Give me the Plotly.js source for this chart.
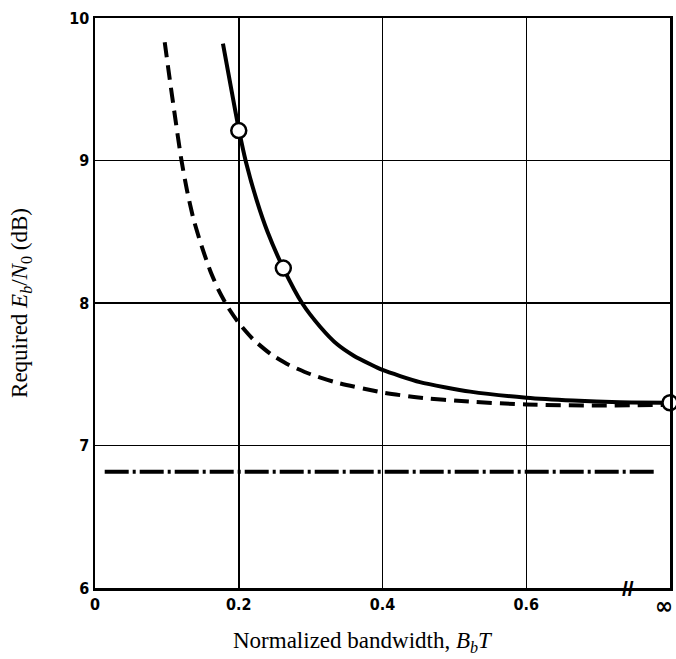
<!DOCTYPE html>
<html>
<head>
<meta charset="utf-8">
<script src="https://cdn.plot.ly/plotly-3.0.1.min.js"></script>
<style>html,body{margin:0;padding:0;background:#fff;}</style>
</head>
<body>
<div id="chart" style="width:676px;height:659px;"></div>
<script>
// Solid curve (with markers)
var solidX = [0.178, 0.19, 0.20, 0.21, 0.225, 0.24, 0.262, 0.288, 0.3135, 0.337, 0.36, 0.383, 0.40, 0.452, 0.522, 0.60, 0.665, 0.73, 0.80];
var solidY = [9.82, 9.49, 9.22, 8.99, 8.72, 8.50, 8.245, 8.00, 7.832, 7.71, 7.63, 7.57, 7.53, 7.445, 7.378, 7.335, 7.315, 7.303, 7.30];
// Open circle markers on the solid curve
var markerX = [0.200, 0.262, 0.800];
var markerY = [9.21, 8.245, 7.30];
// Dashed curve
var dashX = [0.097, 0.104, 0.111, 0.120, 0.128, 0.137, 0.147, 0.16, 0.172, 0.185, 0.20, 0.22, 0.245, 0.27, 0.30, 0.337, 0.40, 0.45, 0.52, 0.60, 0.70, 0.79];
var dashY = [9.83, 9.57, 9.32, 9.01, 8.79, 8.59, 8.42, 8.23, 8.09, 7.97, 7.86, 7.745, 7.64, 7.565, 7.50, 7.44, 7.372, 7.337, 7.308, 7.288, 7.28, 7.285];
// Dash-dot horizontal line
var dotDashX = [0.0135, 0.781];
var dotDashY = [6.815, 6.815];
// Tick labels
var xTickVals = [0, 0.2, 0.4, 0.6];
var xTickText = ['0', '0.2', '0.4', '0.6'];
var infinityLabel = '\u221E';
var yTickVals = [6, 7, 8, 9, 10];
var yTickText = ['6', '7', '8', '9', '10'];
var xTitle = 'Normalized bandwidth, <i>B<sub>b</sub>T</i>';
var yTitle = 'Required <i>E<sub>b</sub></i>/<i>N</i><sub>0</sub> (dB)';

var tickFont = {family: '"DejaVu Sans Condensed", "Liberation Sans Narrow", "Liberation Sans", sans-serif', size: 16, color: '#000', weight: 'bold'};
var titleFont = {family: '"Liberation Serif", "DejaVu Serif", serif', size: 23, color: '#000'};

var traces = [
  {x: dotDashX, y: dotDashY, mode: 'lines', line: {color: '#000', width: 4, dash: '24px,4px,3px,4px'}, hoverinfo: 'skip'},
  {x: dashX, y: dashY, mode: 'lines', line: {color: '#000', width: 4, dash: '15px,8px', shape: 'spline', smoothing: 0.6}, hoverinfo: 'skip'},
  {x: solidX, y: solidY, mode: 'lines', line: {color: '#000', width: 4, shape: 'spline', smoothing: 0.6}, hoverinfo: 'skip'},
  {x: markerX, y: markerY, mode: 'markers', cliponaxis: false,
   marker: {symbol: 'circle', size: 15, color: '#fff', line: {color: '#000', width: 2.5}}, hoverinfo: 'skip'}
];

var layout = {
  width: 676, height: 659,
  margin: {l: 95, r: 6, t: 18, b: 71},
  paper_bgcolor: '#fff', plot_bgcolor: '#fff',
  showlegend: false,
  xaxis: {
    range: [0, 0.8], tickvals: xTickVals, ticktext: xTickText,
    showgrid: true, gridcolor: '#000', gridwidth: 1.5,
    showline: true, mirror: true, linecolor: '#000', linewidth: 2.5,
    zeroline: false, ticks: '', tickfont: tickFont,
    automargin: false
  },
  yaxis: {
    range: [6, 10], tickvals: yTickVals, ticktext: yTickText,
    showgrid: true, gridcolor: '#000', gridwidth: 1.5,
    showline: true, mirror: true, linecolor: '#000', linewidth: 2.5,
    zeroline: false, ticks: '', tickfont: tickFont,
    title: {text: yTitle, font: titleFont, standoff: 35},
    automargin: false
  },
  annotations: [
    {x: 0.742, y: 6, xref: 'x', yref: 'y', text: '<b>//</b>', showarrow: false,
     font: {family: '"Liberation Sans", sans-serif', size: 21, color: '#000'}, xanchor: 'center', yanchor: 'middle'},
    {x: 0.8, y: 6, xref: 'x', yref: 'y', text: infinityLabel, showarrow: false,
     font: {family: '"DejaVu Sans Condensed", sans-serif', size: 24, color: '#000', weight: 'bold'},
     xanchor: 'right', yanchor: 'middle', xshift: 5, yshift: -18},
    {x: 0.466, y: -0.095, xref: 'paper', yref: 'paper', text: xTitle, showarrow: false,
     font: titleFont, xanchor: 'center', yanchor: 'middle'}
  ]
};

Plotly.newPlot('chart', traces, layout, {displayModeBar: false, staticPlot: true});
</script>
</body>
</html>
